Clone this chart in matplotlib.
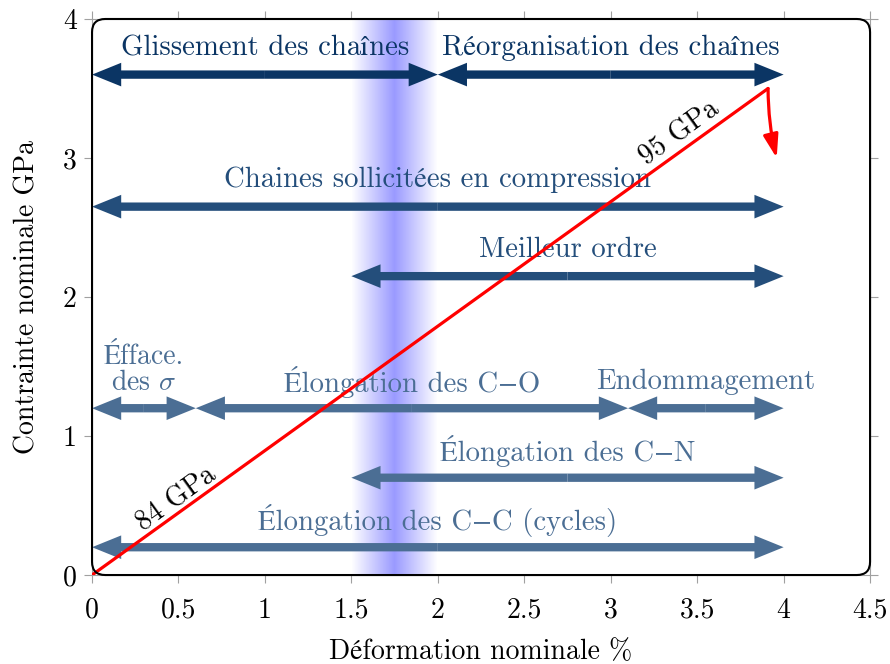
import numpy as np
import matplotlib
matplotlib.use("Agg")
import matplotlib.pyplot as plt
from matplotlib.patches import FancyArrowPatch, FancyBboxPatch, ArrowStyle

plt.rcParams['font.family'] = ['cmr10', 'STIXGeneral', 'DejaVu Serif']
plt.rcParams['mathtext.fontset'] = 'cm'
plt.rcParams['axes.formatter.use_mathtext'] = True

# data
x_ticks = [0, 0.5, 1, 1.5, 2, 2.5, 3, 3.5, 4, 4.5]
x_ticklabels = ['0', '0.5', '1', '1.5', '2', '2.5', '3', '3.5', '4', '4.5']
y_ticks = [0, 1, 2, 3, 4]
y_ticklabels = ['0', '1', '2', '3', '4']

curve_x = [0, 3.91]
curve_y = [0, 3.5]
drop_x = [3.91, 3.96]
drop_y = [3.5, 3.0]

band_start, band_mid, band_end = 1.5, 1.75, 2.0

c_dark = '#0b3564'
c_mid = '#244e7b'
c_light = '#4b6e94'

arrow_labels = ['Glissement des chaînes', 'Réorganisation des chaînes',
                'Chaines sollicitées en compression', 'Meilleur ordre',
                'Éfface.\ndes $\\sigma$', 'Élongation des C−O', 'Endommagement',
                'Élongation des C−N', 'Élongation des C−C (cycles)']
arrow_y = [3.6, 3.6, 2.65, 2.15, 1.2, 1.2, 1.2, 0.7, 0.2]
arrow_x0 = [0, 2.0, 0, 1.5, 0, 0.6, 3.1, 1.5, 0]
arrow_x1 = [2.0, 4.0, 4.0, 4.0, 0.6, 3.1, 4.0, 4.0, 4.0]
arrow_colors = [c_dark, c_dark, c_mid, c_mid, c_light, c_light, c_light, c_light, c_light]
label_x = [1.0, 3.0, 2.0, 2.75, 0.3, 1.85, 3.55, 2.75, 2.0]

FS = 20

fig = plt.figure(figsize=(8.9, 6.64), dpi=100)
ax = fig.add_axes([0.1034, 0.134, 0.8742, 0.8374])
ax.set_xlim(0, 4.5)
ax.set_ylim(0, 4)

# shaded band
prof = np.interp(np.linspace(band_start, band_end, 200), [band_start, band_mid, band_end], [0, 1, 0])
rgba = np.zeros((1, 200, 4))
rgba[..., 2] = 1.0
rgba[..., 3] = 0.4 * prof
ax.imshow(rgba, extent=[band_start, band_end, 0, 4], aspect='auto', zorder=0, interpolation='bilinear')

# arrows
for lab, y, x0, x1, c, tx in zip(arrow_labels, arrow_y, arrow_x0, arrow_x1, arrow_colors, label_x):
    xm = (x0 + x1) / 2
    style = ArrowStyle.Simple(head_length=21, head_width=17, tail_width=6)
    for xe in (x0, x1):
        ax.add_patch(FancyArrowPatch((xm, y), (xe, y), arrowstyle=style, mutation_scale=1,
                                     color=c, lw=0, shrinkA=0, shrinkB=0, zorder=2))
    if '\n' in lab:
        ax.text(tx, y + 0.09, lab, color=c, ha='center', va='bottom', fontsize=FS,
                linespacing=0.95, zorder=3)
    else:
        ax.text(tx, y + 0.19, lab, color=c, ha='center', va='center', fontsize=20.7, zorder=3)

# red curve
ax.plot(curve_x, curve_y, color='red', lw=2.3, zorder=4, solid_capstyle='round')
ax.add_patch(FancyArrowPatch((drop_x[0], drop_y[0]), (drop_x[1], drop_y[1]),
                             arrowstyle='-|>,head_length=1.4,head_width=0.45', mutation_scale=10,
                             connectionstyle='arc3,rad=0.06', color='red', lw=2.3,
                             shrinkA=0, shrinkB=0, zorder=4))

ang = np.degrees(np.arctan2(3.5 * 139, 3.91 * 172.9))
ax.text(0.49, 0.55, '84 GPa', rotation=ang, ha='center', va='center', fontsize=FS, zorder=5,
        rotation_mode='anchor')
ax.text(3.40, 3.18, '95 GPa', rotation=ang, ha='center', va='center', fontsize=FS, zorder=5,
        rotation_mode='anchor')

# rounded frame
ax.add_patch(FancyBboxPatch((0, 0), 1, 1, boxstyle='round,pad=0,rounding_size=0.017',
                            mutation_aspect=778 / 556, transform=ax.transAxes,
                            fc='none', ec='black', lw=1.5, clip_on=False, zorder=6))

for s in ax.spines.values():
    s.set_color('#a0a0a0')
    s.set_linewidth(0.8)
ax.set_xticks(x_ticks)
ax.set_xticklabels(x_ticklabels)
ax.set_yticks(y_ticks)
ax.set_yticklabels(y_ticklabels)
ax.tick_params(direction='out', length=6, color='#a0a0a0', labelsize=FS, pad=5,
               top=True, right=True, labeltop=False, labelright=False)
ax.tick_params(axis='x', pad=10)
ax.set_xlabel('Déformation nominale %', fontsize=FS, labelpad=11)
ax.set_ylabel('Contrainte nominale GPa', fontsize=FS, labelpad=16)

fig.savefig('out.png', dpi=100)
